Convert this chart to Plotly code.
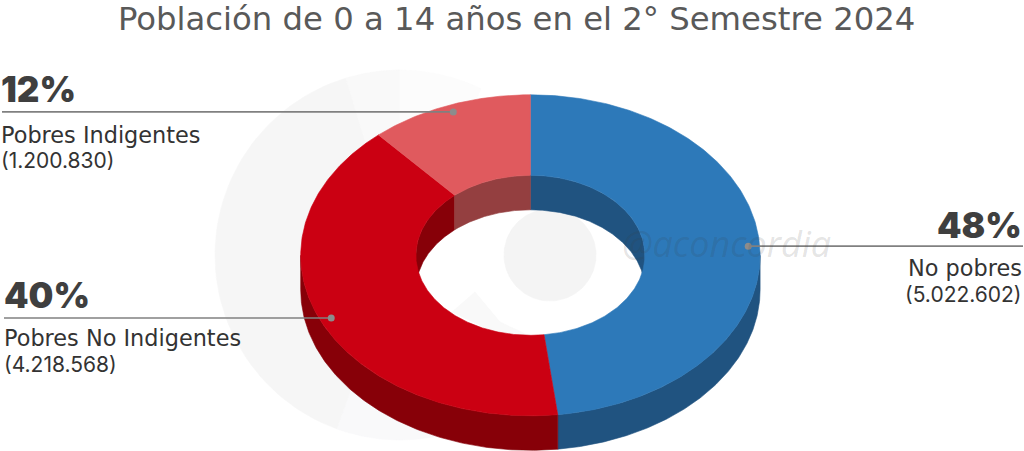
import numpy as np
import plotly.graph_objects as go

# ---- data ----
categories = ["No pobres", "Pobres No Indigentes", "Pobres Indigentes"]
values = [5022602, 4218568, 1200830]
percent_labels = ["48%", "40%", "12%"]
name_labels = ["No pobres", "Pobres No Indigentes", "Pobres Indigentes"]
count_labels = ["(5.022.602)", "(4.218.568)", "(1.200.830)"]
top_colors = ["#2d79b9", "#cb0012", "#e05a5e"]
wall_colors = ["#205380", "#870008", "#943f40"]
title_text = "Población de 0 a 14 años en el 2° Semestre 2024"
watermark_text = "@aconcordia"

# ---- geometry of the drawing (axis units = pixels) ----
CX, CY = 530.4, 255.3
RX, RY = 229.7, 160.5
IRX, IRY = 114.5, 80.0
DEPTH = 34.5
FONT = "DejaVu Sans"
BOLD = "Inter"
DARK = "#3f3f3f"
TEXT = "#333333"
LEADER = "#808080"

fig = go.Figure()


def ring(theta, rx, ry, dy=0.0):
    return CX + rx * np.sin(theta), CY - ry * np.cos(theta) + dy


def arc(a, b, n=160):
    return np.linspace(a, b, n)


def add_poly(x, y, color, name=None):
    fig.add_trace(go.Scatter(
        x=np.append(x, x[0]), y=np.append(y, y[0]), mode="lines",
        fill="toself", fillcolor=color, line=dict(color=color, width=0.6),
        hoverinfo="skip", showlegend=False, name=name))


# pale logo behind the ring
WCX, WCY, WR = 400, 255, 185
for a, b, col in [(158, 200, "#f9f9fa"), (200, 343, "#f6f6f6"),
                  (343, 360, "#f9f9f9"), (360, 386, "#fcfcfc")]:
    t = np.radians(np.linspace(a, b, 60))
    add_poly(np.append(WCX + WR * np.sin(t), WCX),
             np.append(WCY - WR * np.cos(t), WCY), col)
t = np.linspace(0, 2 * np.pi, 120)
add_poly(550 + 46 * np.sin(t), 255 - 46 * np.cos(t), "#f4f4f4")
add_poly(np.array([475, 452, 490, 530, 500]),
         np.array([292, 312, 330, 336, 322]), "#f9f9f9")

# slice angles from the values
shares = np.array(values, dtype=float) / np.sum(values)
edges = np.concatenate([[0], np.cumsum(shares)]) * 2 * np.pi

# outer wall: near half of the ring
for i, cat in enumerate(categories):
    a, b = max(edges[i], np.pi / 2), min(edges[i + 1], 3 * np.pi / 2)
    if b > a:
        th = arc(a, b)
        x, y = ring(th, RX, RY)
        x2, y2 = ring(th[::-1], RX, RY, DEPTH)
        add_poly(np.r_[x, x2], np.r_[y, y2], wall_colors[i], cat)

# inner wall: far half of the hole
for i, cat in enumerate(categories):
    for a, b in [(edges[i], min(edges[i + 1], np.pi / 2)),
                 (max(edges[i], 3 * np.pi / 2), edges[i + 1])]:
        if b > a:
            th = arc(a, b)
            x, y = ring(th, IRX, IRY)
            x2, y2 = ring(th[::-1], IRX, IRY, DEPTH)
            add_poly(np.r_[x, x2], np.r_[y, y2], wall_colors[i], cat)

# top face
for i, cat in enumerate(categories):
    th = arc(edges[i], edges[i + 1], 240)
    x, y = ring(th, RX, RY)
    x2, y2 = ring(th[::-1], IRX, IRY)
    add_poly(np.r_[x, x2], np.r_[y, y2], top_colors[i], cat)

# leaders: dot sits on each slice's mid-angle
mids = (edges[:-1] + edges[1:]) / 2
ax, ay = ring(mids, RX * 0.95, RY * 0.955)
label_edge = [1023, 4, 2]
for i in range(3):
    fig.add_trace(go.Scatter(
        x=[label_edge[i], ax[i]], y=[ay[i], ay[i]], mode="lines",
        line=dict(color=LEADER, width=1.6), hoverinfo="skip", showlegend=False))
    fig.add_trace(go.Scatter(
        x=[ax[i]], y=[ay[i]], mode="markers",
        marker=dict(color="#8c8c8c", size=7), hoverinfo="skip", showlegend=False))

# labels
anns = []


def note(text, x, y, size, anchor="left", color=TEXT, weight=400, italic=False, family=FONT):
    anns.append(dict(
        text=text, x=x, y=y, xref="x", yref="y", showarrow=False,
        xanchor=anchor, yanchor="middle", borderpad=0,
        font=dict(family=family, size=size, color=color, weight=weight,
                  style="italic" if italic else "normal")))


note(title_text, 516, 18.5, 32.3, "center", "#595959")
note(watermark_text, 621, 243, 36, "left", "rgba(60,60,60,0.15)", italic=True, family="Open Sans")

spots = [(1023, "right", ay[0] - 21, ay[0] + 22, ay[0] + 48),
         (3, "left", ay[1] - 23, ay[1] + 20, ay[1] + 47),
         (0, "left", ay[2] - 23, ay[2] + 23, ay[2] + 49)]
for i, (x, anc, yp, yn, yc) in enumerate(spots):
    note(percent_labels[i], x, yp, 35, anc, DARK, 900, family=BOLD)
    note(name_labels[i], x, yn, 22.4, anc)
    note(count_labels[i], x, yc, 21, anc, family=BOLD)

fig.update_layout(
    width=1024, height=451, margin=dict(l=0, r=0, t=0, b=0),
    paper_bgcolor="white", plot_bgcolor="white", showlegend=False,
    annotations=anns,
    xaxis=dict(range=[0, 1024], visible=False, fixedrange=True),
    yaxis=dict(range=[451, 0], visible=False, fixedrange=True),
)
fig.write_html("out.html", config=dict(displayModeBar=False),
               post_script="document.body.style.margin='0';document.body.style.overflow='hidden';")
